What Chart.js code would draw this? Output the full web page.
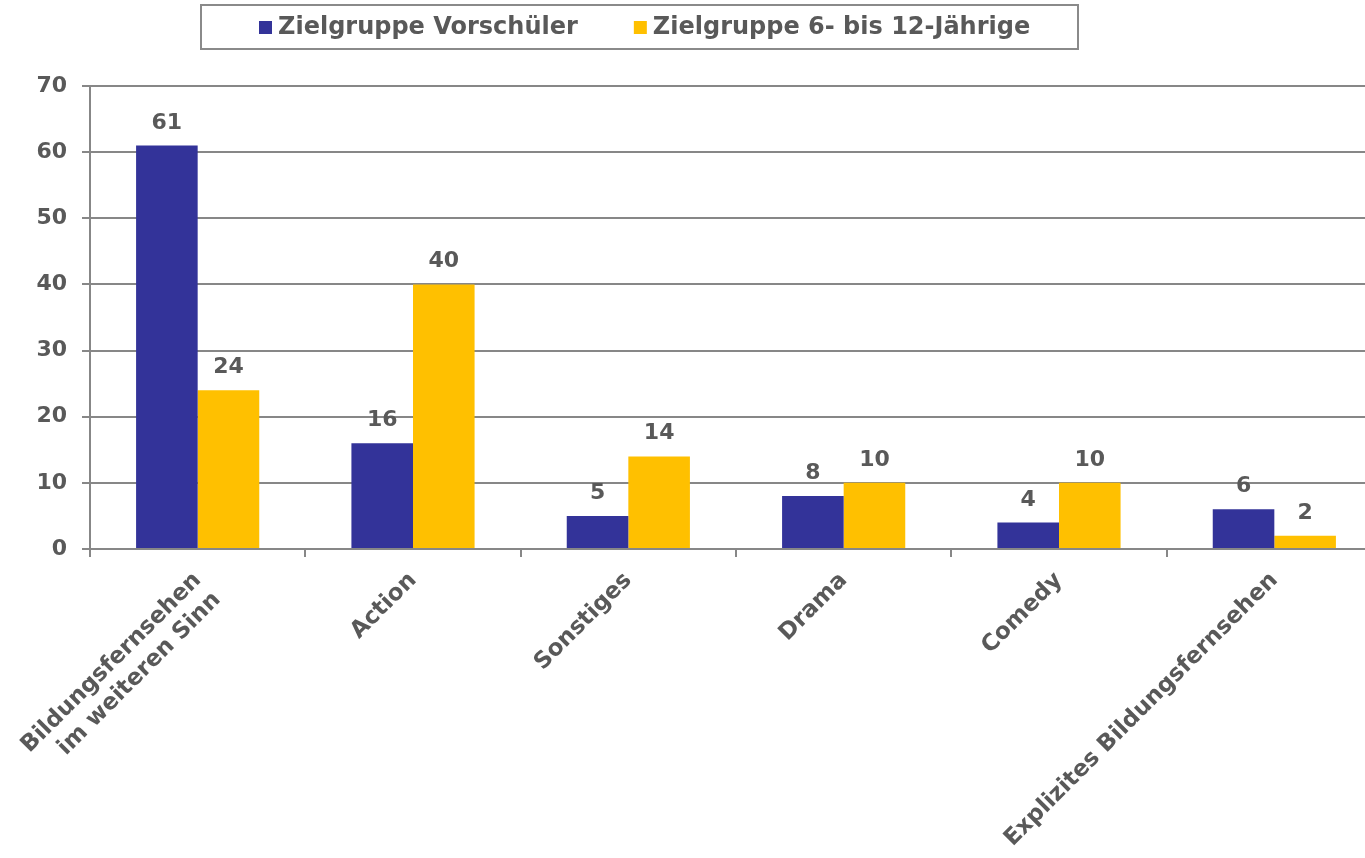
<!DOCTYPE html>
<html><head><meta charset="utf-8">
<script src="https://cdn.jsdelivr.net/npm/chart.js@4/dist/chart.umd.min.js"></script>
<style>html,body{margin:0;padding:0;overflow:hidden;background:#fff}#wrap{width:1382px;height:858px}</style>
</head><body><div id="wrap"><canvas id="c" width="1382" height="858"></canvas></div>
<script>
const categories = [["Bildungsfernsehen","im weiteren Sinn"],"Action","Sonstiges","Drama","Comedy","Explizites Bildungsfernsehen"];
const seriesNames = ["Zielgruppe Vorschüler","Zielgruppe 6- bis 12-Jährige"];
const vorschueler = [61,16,5,8,4,6];
const jaehrige6bis12 = [24,40,14,10,10,2];
const yTicks = [0,10,20,30,40,50,60,70];

const TEXT = '#595959', GRID = '#878787';
const FONT = "'DejaVu Sans', Verdana, sans-serif";

const valueLabels = {
  id:'valueLabels',
  afterDatasetsDraw(chart){
    const ctx = chart.ctx;
    ctx.save();
    ctx.font = "bold 22px " + FONT;
    ctx.fillStyle = TEXT;
    ctx.textAlign = 'center';
    ctx.textBaseline = 'alphabetic';
    chart.data.datasets.forEach((ds,i)=>{
      chart.getDatasetMeta(i).data.forEach((bar,j)=>{
        ctx.fillText(String(ds.data[j]), bar.x, bar.y - 17);
      });
    });
    ctx.restore();
  }
};

const frameLegend = {
  id:'frameLegend',
  afterDraw(chart){
    const ctx = chart.ctx;
    ctx.save();
    ctx.strokeStyle = '#8a8a8a';
    ctx.lineWidth = 2;
    ctx.strokeRect(201,5,877,44);
    ctx.font = "bold 24px " + FONT;
    ctx.textBaseline = 'middle';
    ctx.textAlign = 'left';
    let x = 259;
    chart.data.datasets.forEach((ds)=>{
      ctx.fillStyle = ds.backgroundColor;
      ctx.fillRect(x,21,13,13);
      ctx.fillStyle = TEXT;
      ctx.fillText(ds.label, x+19, 28);
      x += 19 + ctx.measureText(ds.label).width + 56;
    });
    ctx.restore();
  }
};

new Chart(document.getElementById('c'),{
  type:'bar',
  data:{
    labels:categories,
    datasets:[
      {label:seriesNames[0],data:vorschueler,backgroundColor:'#333399'},
      {label:seriesNames[1],data:jaehrige6bis12,backgroundColor:'#FFC000'}
    ]
  },
  options:{
    responsive:false,
    animation:false,
    events:[],
    layout:{padding:{top:86,left:0,right:0,bottom:0}},
    datasets:{bar:{categoryPercentage:0.572,barPercentage:1.0}},
    plugins:{legend:{display:false},tooltip:{enabled:false},title:{display:false}},
    scales:{
      x:{
        offset:true,
        grid:{display:true,drawOnChartArea:false,color:GRID,lineWidth:2,tickLength:8,offset:true},
        border:{display:true,color:GRID,width:2},
        ticks:{color:TEXT,font:{family:FONT,size:23,weight:'bold'},minRotation:45,maxRotation:45,padding:10,autoSkip:false},
        afterFit(s){ s.height = 858-549; }
      },
      y:{
        min:0,max:70,
        afterBuildTicks(s){ s.ticks = yTicks.map(v=>({value:v})); },
        grid:{color:GRID,lineWidth:2,tickLength:8},
        border:{display:true,color:GRID,width:2},
        ticks:{color:TEXT,font:{family:FONT,size:22,weight:'bold'},padding:15},
        afterFit(s){ s.width = 90; }
      }
    }
  },
  plugins:[valueLabels,frameLegend]
});
</script></body></html>
